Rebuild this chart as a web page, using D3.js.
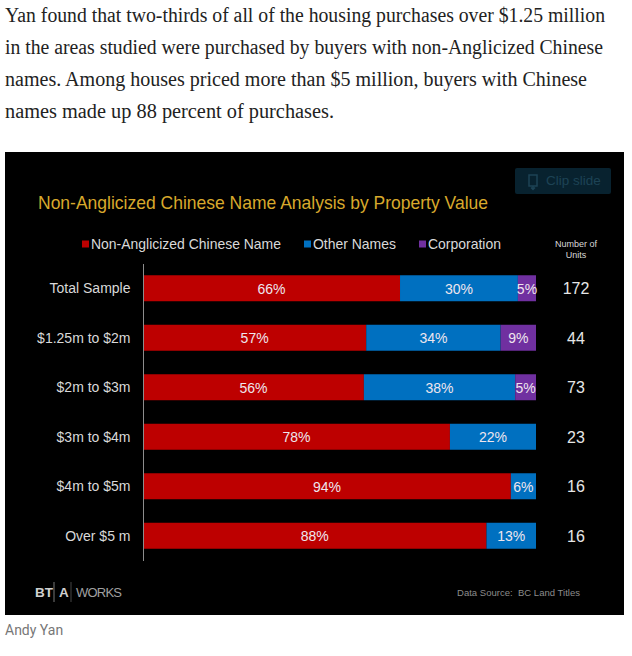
<!DOCTYPE html>
<html>
<head>
<meta charset="utf-8">
<script src="https://cdn.jsdelivr.net/npm/d3@7"></script>
<style>
  html, body { margin: 0; padding: 0; background: #fff; }
  svg { display: block; }
</style>
</head>
<body>
<div id="chart"></div>
<script>
const categories = ['Total Sample', '$1.25m to $2m', '$2m to $3m', '$3m to $4m', '$4m to $5m', 'Over $5 m']
const seriesNames = ['Non-Anglicized Chinese Name', 'Other Names', 'Corporation']
const seriesColors = ['#bd0000', '#0070c0', '#7030a0']

// bar lengths, labels as printed
const chineseShare = [65.4, 56.8, 56.2, 78.1, 93.6, 87.4]
const otherShare = [30, 34.2, 38.5, 21.9, 6.4, 12.6]
const corpShare = [4.6, 9, 5.3, 0, 0, 0]
const chineseLabels = ['66%', '57%', '56%', '78%', '94%', '88%']
const otherLabels = ['30%', '34%', '38%', '22%', '6%', '13%']
const corpLabels = ['5%', '9%', '5%', '', '', '']
const units = [172, 44, 73, 23, 16, 16]

const introLines = [
  'Yan found that two-thirds of all of the housing purchases over $1.25 million',
  'in the areas studied were purchased by buyers with non-Anglicized Chinese',
  'names. Among houses priced more than $5 million, buyers with Chinese',
  'names made up 88 percent of purchases.'
]
const introWidths = [600, 598, 582, 329]

const width = 632
const height = 656
const sans = "'Liberation Sans', Arial, sans-serif"

const svg = d3.select('#chart').append('svg')
  .attr('width', width)
  .attr('height', height)
  .attr('font-family', sans)

svg.selectAll('text.intro')
  .data(introLines)
  .join('text')
  .attr('class', 'intro')
  .attr('x', 5)
  .attr('y', (d, i) => 22 + i * 32)
  .attr('font-family', "'Liberation Serif', 'DejaVu Serif', serif")
  .attr('font-size', 20)
  .attr('fill', '#222')
  .attr('textLength', (d, i) => introWidths[i])
  .attr('lengthAdjust', 'spacingAndGlyphs')
  .text(d => d)

// black slide
svg.append('rect')
  .attr('x', 5).attr('y', 152)
  .attr('width', 619).attr('height', 463)
  .attr('fill', '#000')

// clip slide button
svg.append('rect')
  .attr('x', 515).attr('y', 168)
  .attr('width', 96).attr('height', 26)
  .attr('rx', 2)
  .attr('fill', '#08222f')
svg.append('path')
  .attr('d', 'M529 175h8v11h-8z M533 186v3 M531 187.5l2 2 2-2')
  .attr('fill', 'none')
  .attr('stroke', '#1d4355')
  .attr('stroke-width', 1.5)
svg.append('text')
  .attr('x', 546).attr('y', 185)
  .attr('font-size', 13.5)
  .attr('fill', '#1d4355')
  .text('Clip slide')

svg.append('text')
  .attr('x', 38).attr('y', 209)
  .attr('font-size', 18.5)
  .attr('fill', '#d8a92c')
  .attr('textLength', 450)
  .attr('lengthAdjust', 'spacingAndGlyphs')
  .text('Non-Anglicized Chinese Name Analysis by Property Value')

// legend
const legendX = [82, 304, 419]
const legendWidths = [190, 83, 73]
const legend = svg.selectAll('g.legend')
  .data(seriesNames)
  .join('g')
  .attr('class', 'legend')
  .attr('transform', (d, i) => `translate(${legendX[i]},244)`)
legend.append('rect')
  .attr('x', 0).attr('y', -3.5)
  .attr('width', 7).attr('height', 7)
  .attr('fill', (d, i) => seriesColors[i])
legend.append('text')
  .attr('x', 9).attr('y', 5)
  .attr('font-size', 14.5)
  .attr('fill', '#d9d9d9')
  .attr('textLength', (d, i) => legendWidths[i])
  .attr('lengthAdjust', 'spacingAndGlyphs')
  .text(d => d)

svg.append('text')
  .attr('text-anchor', 'middle')
  .attr('font-size', 9)
  .attr('fill', '#d9d9d9')
  .selectAll('tspan')
  .data(['Number of', 'Units'])
  .join('tspan')
  .attr('x', 576)
  .attr('y', (d, i) => 247 + i * 11)
  .text(d => d)

// chart
const x = d3.scaleLinear().domain([0, 100]).range([143, 536])
const y = d3.scaleBand()
  .domain(categories)
  .range([263.5, 560.5])
  .paddingInner(0.475)
  .paddingOuter(0.2375)

const stack = d3.stack().keys([0, 1, 2]).value((row, key) => row[key])
const rows = categories.map((c, i) => [chineseShare[i], otherShare[i], corpShare[i]])
const layers = stack(rows)
const labelSets = [chineseLabels, otherLabels, corpLabels]

const layer = svg.selectAll('g.layer')
  .data(layers)
  .join('g')
  .attr('class', 'layer')

layer.selectAll('rect')
  .data(d => d)
  .join('rect')
  .attr('x', d => x(d[0]))
  .attr('y', (d, i) => y(categories[i]))
  .attr('width', d => x(d[1]) - x(d[0]))
  .attr('height', y.bandwidth())
  .attr('fill', function () { return seriesColors[d3.select(this.parentNode).datum().key] })

layer.selectAll('text')
  .data(d => d.map(p => ({ p, key: d.key })))
  .join('text')
  .attr('x', d => (x(d.p[0]) + x(d.p[1])) / 2)
  .attr('y', (d, i) => y(categories[i]) + y.bandwidth() / 2 + 5.5)
  .attr('text-anchor', 'middle')
  .attr('font-size', 14)
  .attr('fill', '#eee6ee')
  .text((d, i) => labelSets[d.key][i])

const yAxis = d3.axisLeft(y).tickSize(0).tickPadding(12.5).tickSizeOuter(0)
const axisG = svg.append('g')
  .attr('transform', 'translate(143,0)')
  .call(yAxis)
axisG.select('.domain').attr('stroke', '#8c8c8c')
axisG.selectAll('text')
  .attr('font-family', sans)
  .attr('font-size', 14)
  .attr('fill', '#d9d9d9')
  .attr('y', 0.5)

svg.selectAll('text.units')
  .data(units)
  .join('text')
  .attr('class', 'units')
  .attr('x', 576)
  .attr('y', (d, i) => y(categories[i]) + y.bandwidth() / 2 + 6)
  .attr('text-anchor', 'middle')
  .attr('font-size', 16)
  .attr('fill', '#e6e6e6')
  .text(d => d)

// footer
svg.append('text').attr('x', 35).attr('y', 597)
  .attr('font-size', 13.5).attr('font-weight', 'bold').attr('fill', '#d0d0d0').text('BT')
svg.append('text').attr('x', 59).attr('y', 597)
  .attr('font-size', 13.5).attr('font-weight', 'bold').attr('fill', '#d0d0d0').text('A')
svg.append('text').attr('x', 76).attr('y', 597)
  .attr('font-size', 13).attr('fill', '#a0a0a0')
  .attr('textLength', 46).attr('lengthAdjust', 'spacing').text('WORKS')
svg.append('line').attr('x1', 54).attr('x2', 54).attr('y1', 582).attr('y2', 602)
  .attr('stroke', '#777')
svg.append('line').attr('x1', 71).attr('x2', 71).attr('y1', 582).attr('y2', 602)
  .attr('stroke', '#444')

svg.append('text').attr('x', 457).attr('y', 596)
  .attr('font-size', 9.5).attr('fill', '#8c8c8c')
  .attr('textLength', 123)
  .text('Data Source:\u00a0\u00a0BC Land Titles')

svg.append('text').attr('x', 5).attr('y', 635)
  .attr('font-family', "Roboto, 'Liberation Sans', sans-serif")
  .attr('font-size', 14).attr('fill', '#777')
  .text('Andy Yan')
</script>
</body>
</html>
